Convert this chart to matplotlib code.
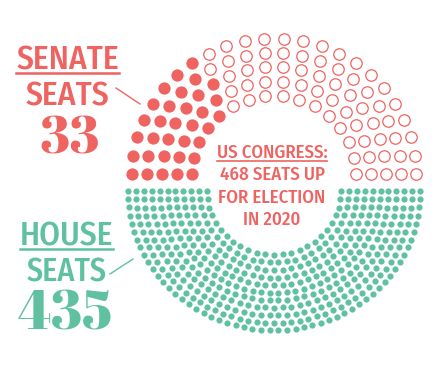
import numpy as np
import matplotlib
matplotlib.use("Agg")
import matplotlib.pyplot as plt

# --- data -------------------------------------------------------------
senate_row_seats = [16, 18, 20, 22, 24]   # inner -> outer, 100 seats
senate_up = 33
house_total = 435
house_rows = 11
total_up = senate_up + house_total

red = "#ef6360"
teal = "#60c1a1"

sans = ["Fira Sans Condensed", "Barlow Condensed", "DejaVu Sans"]
serif = ["Abril Fatface", "DejaVu Serif"]


def seats_per_row(total, radii):
    share = total * radii / radii.sum()
    n = np.floor(share).astype(int)
    rest = total - n.sum()
    order = np.argsort(-(share - n))
    n[order[:rest]] += 1
    return n


def layout(counts, r_in, r_out, start, stop):
    radii = np.linspace(r_in, r_out, len(counts))
    xs, ys, ang = [], [], []
    for r, n in zip(radii, counts):
        t = np.linspace(start, stop, n)
        xs.extend(r * np.cos(t))
        ys.extend(r * np.sin(t))
        ang.extend(t)
    return np.array(xs), np.array(ys), np.array(ang)


W, H = 442, 372
fig = plt.figure(figsize=(W / 100, H / 100), dpi=100)
ax = fig.add_axes([0, 0, 1, 1])
squash = 0.955
cy = 182.5
ax.set_xlim(-274, W - 274)
ax.set_ylim(-(H - cy) / squash, cy / squash)
ax.axis("off")

gap = 8.9

# senate half (top), filled from the left
sx, sy, sa = layout(senate_row_seats, 82, 142, 0, np.pi)
order = np.argsort(-sa, kind="stable")
filled = np.zeros(len(sx), bool)
filled[order[:senate_up]] = True
ax.scatter(sx[filled], sy[filled] + gap, s=78, color=red, linewidths=0)
ax.scatter(sx[~filled], sy[~filled] + gap, s=68, facecolor="white",
           edgecolor=red, linewidths=0.9)

# house half (bottom)
house_counts = seats_per_row(house_total, np.linspace(67, 146, house_rows))
hx, hy, ha = layout(house_counts, 67, 146, np.pi, 2 * np.pi)
ax.scatter(hx, hy - gap, s=20, color=teal, linewidths=0)


def px(x, y):
    return x / W, 1 - y / H


def label(x, y, s, size, color, family, weight=500, underline=None, lw=2):
    t = fig.text(*px(x, y), s, fontsize=size, color=color, family=family,
                 weight=weight, ha="center", va="baseline")
    if underline is not None:
        fig.canvas.draw()
        bb = t.get_window_extent()
        x0, x1 = bb.x0 / W, bb.x1 / W
        yy = 1 - underline / H
        fig.add_artist(plt.Line2D([x0, x1], [yy, yy], color=color, lw=lw,
                                  transform=fig.transFigure))
    return t


def pointer(x0, y0, x1, y1, color):
    a, b = px(x0, y0)
    c, d = px(x1, y1)
    fig.add_artist(plt.Line2D([a, c], [b, d], color=color, lw=1,
                              transform=fig.transFigure))


# left labels
label(67.5, 69, "SENATE", 24, red, sans, underline=72.5, lw=1.8)
label(67, 105, "SEATS", 24, red, sans)
label(70, 153, str(senate_up), 38, red, serif, weight="normal")
pointer(116, 88, 140, 104, red)

label(66.5, 245, "HOUSE", 24, teal, sans, underline=249, lw=1.8)
label(66.5, 282, "SEATS", 23, teal, sans)
label(65, 330, str(house_total), 40, teal, serif, weight="normal")
pointer(110, 274, 133, 259, teal)

# centre text
label(272, 158, "US CONGRESS:", 13.5, red, sans, underline=161.5, lw=1.2)
label(272, 180, f"{total_up} SEATS UP", 13.5, red, sans)
label(272, 203, "FOR ELECTION", 13.5, red, sans)
label(272, 225, "IN 2020", 13.5, red, sans)

fig.savefig("out.png", dpi=100, facecolor="white")
